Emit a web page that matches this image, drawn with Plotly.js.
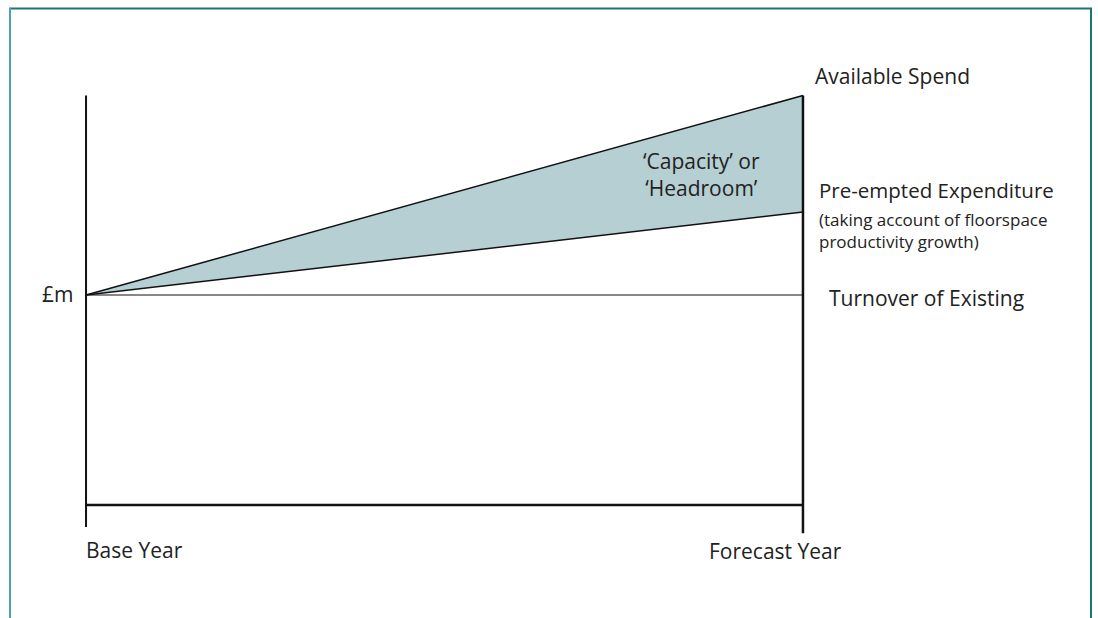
<!DOCTYPE html>
<html>
<head>
<meta charset="utf-8">
<script src="https://cdn.plot.ly/plotly-3.0.1.min.js"></script>
<style>
html,body{margin:0;padding:0;background:#fff;}
#chart{width:1098px;height:618px;}
</style>
</head>
<body>
<div id="chart"></div>
<script>
// Data (schematic index values)
var years = [0, 1];
var yearLabels = ['Base Year', 'Forecast Year'];
var availableSpend = [100, 195];
var preEmpted = [100, 139.5];
var turnover = [100, 100];
var axisTop = 195;

var FONT = 'Open Sans, Noto Sans, DejaVu Sans, sans-serif';

var traces = [
  {x: years, y: preEmpted, mode: 'lines', line: {color: '#111', width: 1.5}, hoverinfo: 'skip'},
  {x: years, y: availableSpend, mode: 'lines', fill: 'tonexty', fillcolor: '#b5cfd3',
   line: {color: '#111', width: 1.5}, hoverinfo: 'skip'},
  {x: years, y: turnover, mode: 'lines', line: {color: '#111', width: 1}, hoverinfo: 'skip'},
  {x: years, y: [0, 0], mode: 'lines', line: {color: '#111', width: 2.5}, hoverinfo: 'skip'},
  {x: [years[0], years[0]], y: [axisTop, -10.5], mode: 'lines', line: {color: '#111', width: 2}, hoverinfo: 'skip'},
  {x: [years[1], years[1]], y: [availableSpend[1], -13.5], mode: 'lines', line: {color: '#111', width: 2.5}, hoverinfo: 'skip'}
];

var layout = {
  width: 1098, height: 618,
  margin: {l: 40, r: 248, t: 85, b: 78},
  paper_bgcolor: '#fff', plot_bgcolor: 'rgba(0,0,0,0)',
  showlegend: false,
  xaxis: {range: [-0.0642, 1.0656], visible: false, fixedrange: true},
  yaxis: {range: [-16.67, 200], visible: false, fixedrange: true},
  font: {family: FONT, color: '#222', size: 21},
  annotations: [
    {x: years[1], y: availableSpend[1], xref: 'x', yref: 'y', text: 'Available Spend',
     xanchor: 'left', yanchor: 'middle', xshift: 10, yshift: 20, showarrow: false, font: {size: 21}},
    {x: years[1], y: preEmpted[1], xref: 'x', yref: 'y', text: 'Pre-empted Expenditure',
     xanchor: 'left', yanchor: 'middle', xshift: 14, yshift: 22, showarrow: false, font: {size: 20.5}},
    {x: years[1], y: preEmpted[1], xref: 'x', yref: 'y', text: '(taking account of floorspace',
     xanchor: 'left', yanchor: 'middle', xshift: 14, yshift: -7, showarrow: false, font: {size: 17}},
    {x: years[1], y: preEmpted[1], xref: 'x', yref: 'y', text: 'productivity growth)',
     xanchor: 'left', yanchor: 'middle', xshift: 14, yshift: -29, showarrow: false, font: {size: 17}},
    {x: years[1], y: turnover[1], xref: 'x', yref: 'y', text: 'Turnover of Existing',
     xanchor: 'left', yanchor: 'middle', xshift: 24, yshift: -3, showarrow: false, font: {size: 21}},
    {x: years[0], y: turnover[0], xref: 'x', yref: 'y', text: '£m',
     xanchor: 'right', yanchor: 'middle', xshift: -11, yshift: 1, showarrow: false, font: {size: 21}},
    {x: 0.858, y: 157.6, xref: 'x', yref: 'y', text: '\u2018Capacity\u2019 or<br>\u2018Headroom\u2019', align: 'center',
     xanchor: 'center', yanchor: 'middle', showarrow: false, font: {size: 21}},
    {x: years[0], y: 0, xref: 'x', yref: 'y', text: yearLabels[0],
     xanchor: 'left', yanchor: 'middle', xshift: -2, yshift: -45, showarrow: false, font: {size: 21}},
    {x: years[1], y: 0, xref: 'x', yref: 'y', text: yearLabels[1],
     xanchor: 'center', yanchor: 'middle', xshift: -27, yshift: -46, showarrow: false, font: {size: 21}}
  ],
  shapes: [
    {type: 'line', xref: 'paper', yref: 'paper', x0: (9 - 40) / 810, x1: (1092 - 40) / 810,
     y0: (540 - 8.5) / 455, y1: (540 - 8.5) / 455, line: {color: '#1d757c', width: 2}},
    {type: 'line', xref: 'paper', yref: 'paper', x0: (10 - 40) / 810, x1: (10 - 40) / 810,
     y0: (540 - 8) / 455, y1: (540 - 630) / 455, line: {color: '#4fa3aa', width: 2}},
    {type: 'line', xref: 'paper', yref: 'paper', x0: (1091 - 40) / 810, x1: (1091 - 40) / 810,
     y0: (540 - 8) / 455, y1: (540 - 630) / 455, line: {color: '#1d757c', width: 2}}
  ]
};

Plotly.newPlot('chart', traces, layout, {staticPlot: true, displayModeBar: false});
</script>
</body>
</html>
